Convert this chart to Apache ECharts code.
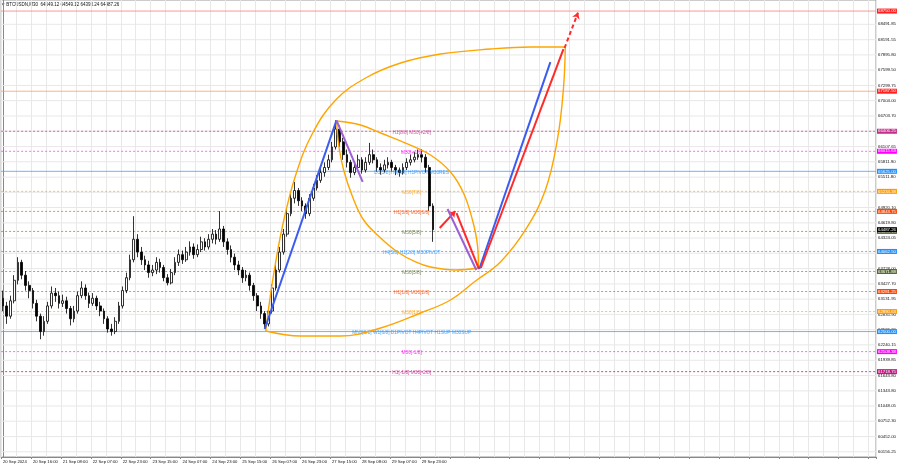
<!DOCTYPE html>
<html><head><meta charset="utf-8">
<script src="https://cdn.jsdelivr.net/npm/echarts@6/dist/echarts.min.js"></script>
<style>html,body{margin:0;padding:0;background:#fff}#c{width:900px;height:468px}</style>
</head><body><div id="c"></div>
<script>
// ---------- data ----------
const SLOT_COUNT = 234; // 2-hour slots incl. empty future area
const dateLabels = ['20 Sep 2024','20 Sep 16:00','21 Sep 08:00','22 Sep 07:00','22 Sep 23:00','23 Sep 15:00','24 Sep 07:00','24 Sep 23:00','25 Sep 15:00','26 Sep 07:00','26 Sep 23:00','27 Sep 15:00','28 Sep 08:00','29 Sep 07:00','29 Sep 23:00'];
const opens  = [63150,63000,62800,63100,63500,63850,63600,63400,63300,63050,62800,62500,62700,63000,63250,63200,63050,63100,62950,62750,62900,63200,63350,63200,63050,63150,63000,62900,62750,62550,62500,62700,63000,63300,63550,63900,64300,64050,63900,63800,63650,63700,63850,63750,63550,63450,63650,63850,64000,63900,64050,64150,64000,64100,64250,64150,64300,64400,64300,64500,64250,64100,63950,63800,63700,63550,63600,63400,63200,63000,62850,62650,62900,63350,63700,64050,64400,64800,65100,65250,65050,64950,64800,65100,65300,65450,65600,65700,65850,66100,66450,66200,65950,65800,65600,65700,65850,65650,65800,65950,65850,65700,65650,65750,65800,65700,65650,65600,65700,65800,65850,65900,65950,65900,65700,64950];
const closes = [63000,62800,63100,63500,63850,63600,63400,63300,63050,62800,62500,62700,63000,63250,63200,63050,63100,62950,62750,62900,63200,63350,63200,63050,63150,63000,62900,62750,62550,62500,62700,63000,63300,63550,63900,64300,64050,63900,63800,63650,63700,63850,63750,63550,63450,63650,63850,64000,63900,64050,64150,64000,64100,64250,64150,64300,64400,64300,64500,64250,64100,63950,63800,63700,63550,63600,63400,63200,63000,62850,62650,62900,63350,63700,64050,64400,64800,65100,65250,65050,64950,64800,65100,65300,65450,65600,65700,65850,66100,66450,66200,65950,65800,65600,65700,65850,65650,65800,65950,65850,65700,65650,65750,65800,65700,65650,65600,65700,65800,65850,65900,65950,65900,65700,64950,64487.26];
const lows   = [62900,62650,62750,63050,63420,63520,63300,63150,62950,62700,62350,62420,62650,62950,63080,62950,62980,62850,62620,62680,62850,63150,63120,62960,63000,62920,62800,62650,62480,62420,62450,62650,62950,63250,63500,63850,63950,63800,63700,63550,63580,63620,63650,63480,63400,63420,63600,63780,63820,63860,63980,63920,63950,64050,64080,64100,64220,64200,64250,64150,64000,63850,63700,63600,63450,63480,63300,63100,62900,62750,62550,62600,62850,63300,63650,64000,64350,64750,65000,64950,64850,64700,64750,65050,65250,65400,65520,65650,65800,66050,66100,65850,65700,65500,65550,65650,65580,65600,65750,65780,65620,65560,65600,65680,65620,65550,65520,65560,65650,65740,65800,65850,65800,65600,64850,64250];
const highs  = [63300,63080,63200,63600,63950,63900,63680,63480,63350,63120,62850,62800,63080,63380,63350,63280,63220,63180,63000,63000,63280,63480,63420,63260,63250,63200,63080,62950,62800,62650,62780,63080,63380,63650,64000,64750,64400,64150,63980,63880,63800,63950,63920,63800,63620,63720,63950,64100,64080,64150,64260,64220,64200,64350,64320,64400,64500,64480,64850,64560,64320,64180,64020,63880,63760,63700,63650,63450,63250,63080,62900,62980,63420,63800,64150,64500,64900,65200,65420,65300,65120,65000,65180,65380,65550,65700,65800,65950,66200,66620,66520,66280,66050,65850,65800,65950,65900,65900,66180,66050,65900,65780,65850,65900,65850,65750,65700,65780,65880,65950,66000,66050,66060,65960,65750,65000];
const titleText = 'BTCUSDN,M30  64549.12 64549.12 64393.24 64487.26';
const lastPrice = 64487.26;

// right-hand price scale labels
const tickValues = [68491.85,68191.55,67895.80,67599.50,67299.75,67004.00,66703.70,66407.95,66107.65,65811.90,65511.80,65215.95,64920.10,64619.80,64324.05,64028.00,63728.00,63427.70,63131.95,62835.90,62536.20,62240.15,61939.85,61643.80,61343.80,61048.05,60752.30,60452.00,60156.25];

// Murrey-math style levels
const levelValues = [68750.00,67187.50,66406.25,66015.63,65625.00,65234.38,64843.75,64453.13,64062.50,63671.88,63281.25,62890.63,62500.00,62109.38,61718.75];
const levelNames  = ['','','H1[8/8] M30[+2/8]','M30[+1/8]','D1[5/8] H4[8/8] H1PIVOT M30RES','M30[7/8]','H1[3/8] M30[6/8]','M30[5/8]','H4[5/8] H1[2/8] M30PIVOT','M30[3/8]','H1[1/8] M30[2/8]','M30[1/8]','MN1[6/8] W1[6/8] D1PIVOT H4PIVOT H1SUP M30SUP','M30[-1/8]','H1[-1/8] M30[-2/8]'];
const levelNameSlot = 109.3;

// drawn objects (slot index, price)
const blueUp     = [[70.0,62550],[89.2,66620]];
const purpleDown1= [[89.2,66620],[96.2,65420]];
const redShort   = [[116.8,64520],[121.0,64850]];
const purpleDown2= [[118.9,64890],[126.6,63700]];
const redDown    = [[121.3,64810],[127.3,63720]];
const blueLong   = [[127.4,63720],[146.4,67755]];
const redLong    = [[127.8,63740],[149.9,68010]];
const redDashed  = [[150.2,68030],[153.8,68720]];
const bigArcTop  = [[70.28,62511],[72.15,63506],[74.82,64578],[78.29,65553],[82.83,66372],[88.98,67016],[96.99,67445],[106.34,67737],[117.0,67913],[130.4,68010],[141.1,68049],[150.4,68049]];
const bigArcBot  = [[70.28,62511],[79.63,62414],[90.31,62414],[101.0,62570],[111.68,62862],[119.69,63116],[126.37,63486],[133.05,63857],[139.72,64481],[145.07,65261],[148.27,66236],[149.87,67211],[150.4,68049]];
const smallArcTop= [[89.24,66606],[95.65,66528],[101.0,66372],[107.67,66177],[114.35,65943],[119.69,65612],[123.17,65202],[125.57,64676],[126.9,64188],[127.17,63740]];
const smallArcBot= [[89.24,66606],[89.78,66138],[91.11,65651],[93.52,65124],[96.46,64676],[101.0,64325],[105.54,64052],[110.34,63857],[114.35,63759],[121.03,63701],[127.17,63740]];

// ---------- styles ----------
const levelColors = ['#ff8080','#f4a070','#d04090','#ff40ff','#4aa0ff','#ffb030','#ff6030','#7a9a40','#4aa0ff','#7a9a40','#ff6030','#ffb030','#4aa0ff','#ff40ff','#c71585'];
const levelBoxColors = ['#ff2020','#ff2020','#c0308a','#ff00ff','#1e90ff','#ff9900','#ff4500','#556b2f','#1e90ff','#556b2f','#ff4500','#ff9900','#1e90ff','#ff00ff','#c71585'];
const levelDash   = ['solid','solid',[2,2],[2,2],'solid',[2,2],[2,2],[2,2],[2,2],[2,2],[2,2],[2,2],'solid',[2,2],[2,2]];
const FONT = 'Liberation Sans, Arial, sans-serif';

const categories = [];
for (let i = 0; i < SLOT_COUNT; i++) categories.push(i % 8 === 0 && i / 8 < dateLabels.length ? dateLabels[i / 8] : '');
const candleData = opens.map((o, i) => [o, closes[i], lows[i], highs[i]]);
const X0 = -0.5, X1 = SLOT_COUNT - 0.5;

// horizontal line drawn as a two-point line series across the axis range, label via markLine
function hLine(value, color, dash, text, textColor, bg, z, lineOpacity) {
  return {type: 'line', xAxisIndex: 1, data: [[X0, value], [X1, value]], z: z, silent: true, symbol: 'none',
    lineStyle: {color: color, width: 1, type: dash, opacity: lineOpacity},
    markLine: {silent: true, symbol: ['none', 'none'], animation: false,
      lineStyle: {width: 0, color: 'rgba(0,0,0,0)'},
      label: {show: true, position: 'end', distance: bg ? 1 : 2, formatter: text, color: textColor, fontSize: 4.3,
              fontFamily: FONT, backgroundColor: bg || 'transparent', padding: bg ? [1, 1, 0, 1] : 0},
      data: [{yAxis: value}]}};
}

const tickSeries = tickValues.map(v => hLine(v, '#e8e8e8', 'solid', v.toFixed(2), '#111', null, 1, 1));
const levelSeries = levelValues.map((v, i) => hLine(v, levelColors[i], levelDash[i], v.toFixed(2), '#fff', levelBoxColors[i], 2, 0.8));
levelSeries.push(hLine(lastPrice, '#000', 'solid', lastPrice.toFixed(2), '#fff', '#000', 2, 0));

const nameData = levelValues.map((v, i) => ({value: [levelNameSlot, v], name: levelNames[i],
  label: {color: levelBoxColors[i]}})).filter(d => d.name);

function seg(coords, color, width, arrow, dashed) {
  return {type: 'lines', coordinateSystem: 'cartesian2d', xAxisIndex: 1, yAxisIndex: 0, z: 6, silent: true,
    symbol: arrow ? ['none', 'arrow'] : ['none', 'none'], symbolSize: 6,
    lineStyle: {color: color, width: width, type: dashed ? [4, 3] : 'solid', opacity: 1},
    data: [{coords: coords}]};
}
function arc(points) {
  return {type: 'line', xAxisIndex: 1, yAxisIndex: 0, data: points, smooth: 0.4, symbol: 'none', z: 5, silent: true,
    lineStyle: {color: '#ffa500', width: 1.4}};
}

const chart = echarts.init(document.getElementById('c'), null, {renderer: 'canvas'});
chart.setOption({
  animation: false,
  backgroundColor: '#fff',
  grid: {left: 0, right: 24, top: 0, bottom: 11, show: true, borderColor: '#999', borderWidth: 1},
  graphic: [{type: 'text', left: 2, top: 2, style: {text: '\u25BE ' + titleText, fontSize: 4.5, fontFamily: FONT, fill: '#111'}}],
  xAxis: [{
    type: 'category', data: categories, boundaryGap: true,
    axisLine: {lineStyle: {color: '#888'}},
    axisTick: {show: true, interval: 7, length: 2, lineStyle: {color: '#888'}},
    axisLabel: {interval: 7, align: 'left', fontSize: 4.2, color: '#111', fontFamily: FONT, margin: 3},
    splitLine: {show: true, interval: 3, lineStyle: {color: '#e8e8e8', width: 1}}
  }, {
    type: 'value', min: X0, max: X1, show: false
  }],
  yAxis: [{
    type: 'value', position: 'right', min: 60054, max: 68966, scale: true,
    axisLine: {show: true, lineStyle: {color: '#888'}}, axisTick: {show: false},
    axisLabel: {show: false}, splitLine: {show: false}
  }],
  series: [].concat(tickSeries, levelSeries, [
    {type: 'candlestick', data: candleData, barWidth: '60%', z: 3,
     itemStyle: {color: '#ffffff', color0: '#000000', borderColor: '#000000', borderColor0: '#000000', borderWidth: 0.8}},
    {type: 'scatter', xAxisIndex: 1, data: nameData, symbolSize: 0, z: 4, silent: true,
     label: {show: true, position: 'inside', formatter: p => p.name, fontSize: 4.8, fontFamily: FONT, offset: [0, 1]}},
    arc(bigArcTop), arc(bigArcBot), arc(smallArcTop), arc(smallArcBot),
    seg(blueUp, '#3a5cf0', 2, false),
    seg(purpleDown1, '#9b5fd6', 2, false),
    seg(redShort, '#ff2a2a', 2, true),
    seg(purpleDown2, '#9b5fd6', 2, false),
    seg(redDown, '#ff2a2a', 2, false),
    seg(blueLong, '#3a5cf0', 2, false),
    seg(redLong, '#ff2a2a', 2, false),
    seg(redDashed, '#ff2a2a', 2, true, true)
  ])
});
</script></body></html>
